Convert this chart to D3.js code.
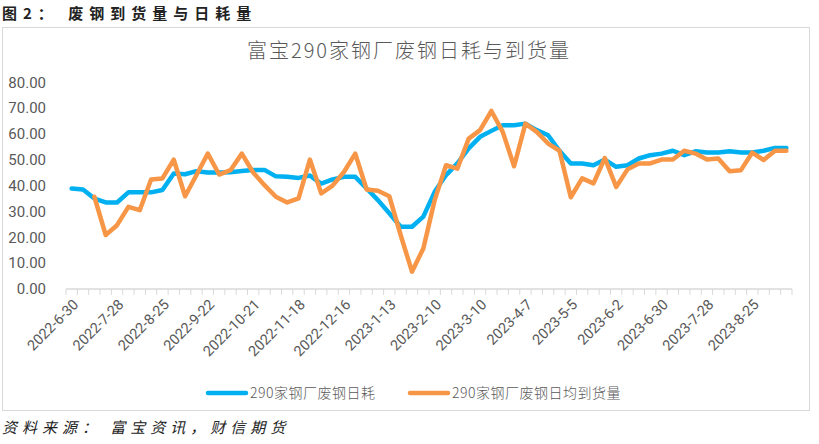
<!DOCTYPE html>
<html>
<head>
<meta charset="utf-8">
<script src="https://cdn.jsdelivr.net/npm/d3@7"></script>
<style>
  body { margin: 0; background: #fff; }
  svg { display: block; }
</style>
</head>
<body>
<svg id="chart" width="819" height="444"></svg>
<script>
// weekly categories
var dates = [
  '2022-6-30','2022-7-7','2022-7-14','2022-7-21','2022-7-28','2022-8-4','2022-8-11','2022-8-18',
  '2022-8-25','2022-9-1','2022-9-8','2022-9-15','2022-9-22','2022-9-29','2022-10-8','2022-10-14',
  '2022-10-21','2022-10-28','2022-11-4','2022-11-11','2022-11-18','2022-11-25','2022-12-2','2022-12-9',
  '2022-12-16','2022-12-23','2022-12-30','2023-1-6','2023-1-13','2023-1-20','2023-1-27','2023-2-3',
  '2023-2-10','2023-2-17','2023-2-24','2023-3-3','2023-3-10','2023-3-17','2023-3-24','2023-3-31',
  '2023-4-7','2023-4-14','2023-4-21','2023-4-28','2023-5-5','2023-5-12','2023-5-19','2023-5-26',
  '2023-6-2','2023-6-9','2023-6-16','2023-6-21','2023-6-30','2023-7-7','2023-7-14','2023-7-21',
  '2023-7-28','2023-8-4','2023-8-11','2023-8-18','2023-8-25','2023-9-1','2023-9-8','2023-9-15'
];
// 290家钢厂废钢日耗
var dailyUse = [
  38.9, 38.5, 35.0, 33.5, 33.5, 37.4, 37.4, 37.4, 38.3, 44.7, 44.4, 45.6, 45.1, 45.1, 45.2, 45.7,
  46.1, 46.1, 43.6, 43.4, 43.0, 43.9, 40.8, 42.4, 43.4, 43.4, 38.9, 34.4, 29.3, 24.1, 24.1, 28.0,
  37.6, 44.1, 48.6, 54.4, 58.9, 61.2, 63.4, 63.4, 64.0, 61.5, 59.5, 53.5, 48.6, 48.6, 47.9, 50.1,
  47.3, 47.9, 50.5, 51.8, 52.4, 53.5, 51.8, 53.3, 52.8, 52.8, 53.3, 52.8, 52.8, 53.5, 54.6, 54.6
];
// 290家钢厂废钢日均到货量
var arrivals = [
  null, null, 35.7, 20.9, 24.7, 31.8, 30.5, 42.4, 42.8, 50.1, 35.9, 44.1, 52.4, 44.3, 46.0, 52.4,
  45.1, 40.2, 35.7, 33.5, 35.1, 50.1, 37.0, 40.0, 45.3, 52.4, 38.5, 38.0, 35.9, 20.9, 6.7, 15.7,
  34.4, 47.9, 46.6, 58.2, 61.5, 68.9, 60.8, 47.5, 64.0, 60.8, 56.3, 53.5, 35.5, 42.8, 40.9, 50.7,
  39.5, 46.3, 48.6, 48.6, 50.1, 50.1, 53.5, 52.4, 50.1, 50.5, 45.6, 46.0, 52.8, 49.9, 53.5, 53.5
];
var yTicks = [0, 10, 20, 30, 40, 50, 60, 70, 80];
var seriesNames = ['290家钢厂废钢日耗', '290家钢厂废钢日均到货量'];
var colors = ['#00B0F0', '#F79646'];

var svg = d3.select('#chart');
var grey = '#595959';
var cjk = '"Noto Sans CJK SC", "Noto Sans", sans-serif';

// outer frame
svg.append('rect')
  .attr('x', 2.5).attr('y', 27.5).attr('width', 807).attr('height', 383)
  .attr('fill', 'none').attr('stroke', '#d9d9d9').attr('stroke-width', 1);

// figure caption
svg.append('text')
  .attr('x', 2).attr('y', 19)
  .style('font-family', cjk).style('font-size', '15px').style('font-weight', 'bold')
  .style('letter-spacing', '6px').attr('fill', '#222')
  .text('图2： 废钢到货量与日耗量');

svg.append('text')
  .attr('x', 2).attr('y', 433)
  .style('font-family', cjk).style('font-size', '15px').style('font-style', 'italic')
  .style('letter-spacing', '5px').attr('fill', '#222')
  .text('资料来源： 富宝资讯，财信期货');

// chart title
svg.append('text')
  .attr('x', 409).attr('y', 58)
  .attr('text-anchor', 'middle')
  .style('font-family', cjk).style('font-size', '20px').style('font-weight', 300)
  .style('letter-spacing', '2px')
  .attr('fill', grey)
  .text('富宝290家钢厂废钢日耗与到货量');

var x = d3.scaleBand().domain(dates).range([66, 792]);
var y = d3.scaleLinear().domain([0, 80]).range([289, 82.3]);

// y labels
svg.append('g')
  .selectAll('text')
  .data(yTicks).enter()
  .append('text')
  .attr('x', 46)
  .attr('y', function (d) { return y(d); })
  .attr('dy', '0.35em')
  .attr('text-anchor', 'end')
  .style('font-family', 'Roboto, sans-serif').style('font-size', '15px')
  .attr('fill', grey)
  .text(function (d) { return d.toFixed(2); });

// x axis line and ticks
var xa = svg.append('g');
xa.append('line')
  .attr('x1', 66).attr('x2', 792).attr('y1', 289).attr('y2', 289)
  .attr('stroke', '#d9d9d9').attr('stroke-width', 1.5);
var bounds = dates.map(function (d) { return x(d); }).concat([x(dates[dates.length - 1]) + x.bandwidth()]);
xa.selectAll('line.tk')
  .data(bounds).enter()
  .append('line')
  .attr('class', 'tk')
  .attr('x1', function (d) { return d; }).attr('x2', function (d) { return d; })
  .attr('y1', 289).attr('y2', 295)
  .attr('stroke', '#d9d9d9').attr('stroke-width', 1);

xa.selectAll('text')
  .data(dates.filter(function (d, i) { return i % 4 === 0; })).enter()
  .append('text')
  .attr('transform', function (d) {
    return 'translate(' + (x(d) + x.bandwidth() / 2 + 4) + ',302) rotate(-45)';
  })
  .attr('text-anchor', 'end')
  .attr('dy', '0.35em')
  .style('font-family', 'Roboto, sans-serif').style('font-size', '14.5px')
  .attr('fill', grey)
  .text(function (d) { return d; });

// lines
var line = d3.line()
  .defined(function (d) { return d != null; })
  .x(function (d, i) { return x(dates[i]) + x.bandwidth() / 2; })
  .y(function (d) { return y(d); });

[dailyUse, arrivals].forEach(function (s, k) {
  svg.append('path')
    .attr('d', line(s))
    .attr('fill', 'none')
    .attr('stroke', colors[k])
    .attr('stroke-width', 4.5)
    .attr('stroke-linejoin', 'round')
    .attr('stroke-linecap', 'round');
});

// legend
var legendX = [208, 410];
seriesNames.forEach(function (name, k) {
  var g = svg.append('g').attr('transform', 'translate(' + legendX[k] + ',393)');
  g.append('line')
    .attr('x1', 0).attr('x2', 38)
    .attr('stroke', colors[k]).attr('stroke-width', 4.5).attr('stroke-linecap', 'round');
  g.append('text')
    .attr('x', 42).attr('dy', '0.35em')
    .style('font-family', cjk).style('font-size', '14px').style('font-weight', 300)
    .style('letter-spacing', '0.5px')
    .attr('fill', grey)
    .text(name);
});
</script>
</body>
</html>
